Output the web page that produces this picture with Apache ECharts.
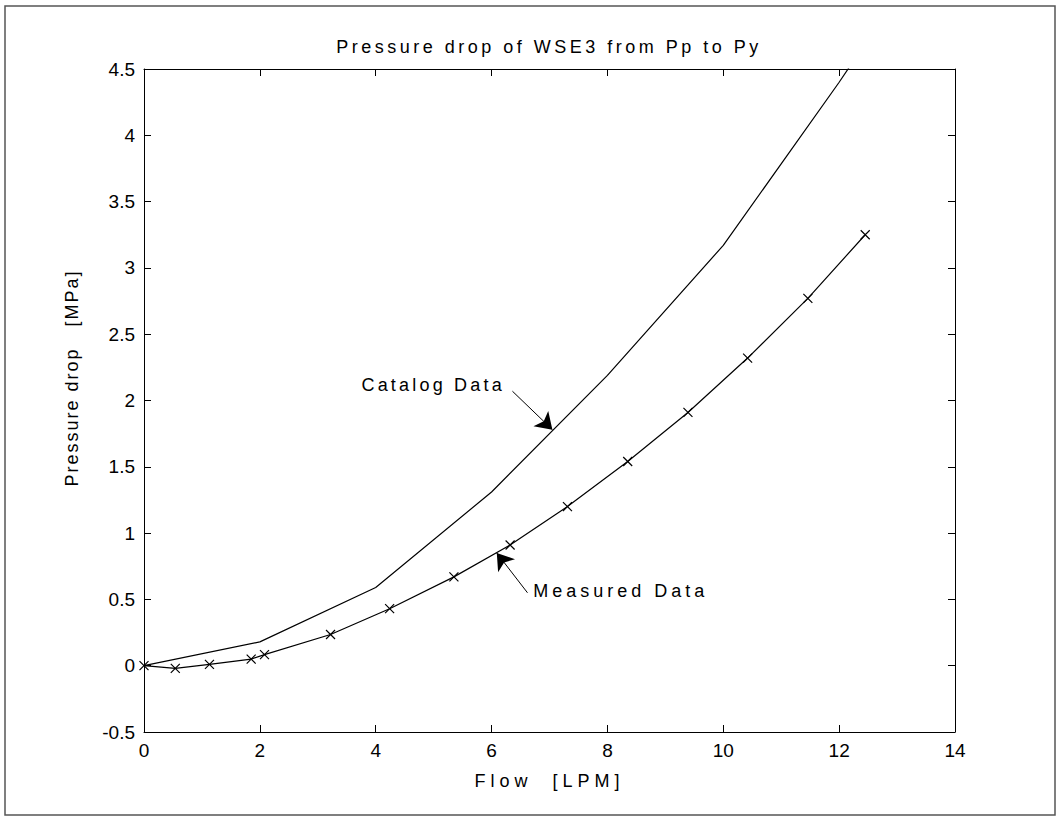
<!DOCTYPE html>
<html><head><meta charset="utf-8">
<script src="https://cdn.jsdelivr.net/npm/echarts@6/dist/echarts.min.js"></script>
<style>html,body{margin:0;padding:0;background:#fff}#c{width:1060px;height:834px}</style>
</head><body><div id="c"></div>
<script>
const chartTitle = 'Pressure drop of WSE3 from Pp to Py';
const xName = 'Flow  [LPM]';
const yName = 'Pressure drop   [MPa]';
const catalogName = 'Catalog Data';
const measuredName = 'Measured Data';
const catalogFlow = [0, 2, 4, 6, 8, 10, 12, 14];
const catalogDrop = [0, 0.18, 0.59, 1.31, 2.19, 3.17, 4.40, 5.70];
const measuredFlow = [0, 0.54, 1.13, 1.85, 2.08, 3.22, 4.24, 5.35, 6.32, 7.31, 8.35, 9.39, 10.42, 11.46, 12.45];
const measuredDrop = [0, -0.02, 0.01, 0.05, 0.083, 0.235, 0.43, 0.67, 0.91, 1.20, 1.54, 1.91, 2.32, 2.77, 3.25];
const xTicks = [0, 2, 4, 6, 8, 10, 12, 14];
const yTicks = [-0.5, 0, 0.5, 1, 1.5, 2, 2.5, 3, 3.5, 4, 4.5];

const FONT = '"Liberation Sans", Arial, sans-serif';
const zip = (a, b) => a.map((v, i) => [v, b[i]]);
const xMin = xTicks[0], xMax = xTicks[xTicks.length - 1], xInt = xTicks[1] - xTicks[0];
const yMin = yTicks[0], yMax = yTicks[yTicks.length - 1], yInt = yTicks[1] - yTicks[0];

const axisCommon = {
  type: 'value',
  axisLine: { show: true, onZero: false, lineStyle: { color: '#000', width: 1 } },
  axisTick: { show: true, inside: true, length: 7, lineStyle: { color: '#000', width: 1 } },
  splitLine: { show: false },
  axisLabel: { color: '#000', fontSize: 19, fontFamily: FONT }
};

const chart = echarts.init(document.getElementById('c'), null, { renderer: 'svg' });
chart.setOption({
  animation: false,
  backgroundColor: '#fff',
  grid: { left: 144, right: 105, top: 69, bottom: 102 },
  xAxis: [
    Object.assign({}, axisCommon, {
      min: xMin, max: xMax, interval: xInt, position: 'bottom',
      axisLabel: Object.assign({}, axisCommon.axisLabel, { margin: 9 }),
      name: xName, nameLocation: 'middle', nameGap: 40,
      nameTextStyle: { color: '#000', fontSize: 18, fontFamily: FONT }
    }),
    Object.assign({}, axisCommon, {
      min: xMin, max: xMax, interval: xInt, position: 'top',
      axisLabel: { show: false }
    })
  ],
  yAxis: [
    Object.assign({}, axisCommon, {
      min: yMin, max: yMax, interval: yInt, position: 'left',
      axisLabel: Object.assign({}, axisCommon.axisLabel, { margin: 9 })
    }),
    Object.assign({}, axisCommon, {
      min: yMin, max: yMax, interval: yInt, position: 'right',
      axisLabel: { show: false }
    })
  ],
  graphic: [
    { type: 'rect', shape: { x: 5, y: 6, width: 1050, height: 809 },
      style: { fill: 'none', stroke: '#555', lineWidth: 1.5 }, silent: true },
    { type: 'text', x: 549, y: 47,
      style: { text: chartTitle, textAlign: 'center', textVerticalAlign: 'middle',
               fill: '#000', font: '18px ' + FONT } },
    { type: 'text', x: 72, y: 378, rotation: Math.PI / 2,
      style: { text: yName, textAlign: 'center', textVerticalAlign: 'middle',
               fill: '#000', font: '18px ' + FONT } }
  ],
  series: [
    {
      name: catalogName, type: 'line', data: zip(catalogFlow, catalogDrop),
      showSymbol: false, symbol: 'none', clip: true,
      lineStyle: { color: '#000', width: 1.2 },
      markLine: {
        silent: true, symbol: ['none', 'arrow'], symbolSize: 16,
        label: { show: false },
        lineStyle: { color: '#000', width: 1, type: 'solid' },
        data: [[{ coord: [6.36, 2.07] }, { coord: [7.05, 1.78] }]]
      },
      markPoint: {
        silent: true, symbol: 'circle', symbolSize: 0,
        label: { show: true, position: 'left', distance: 0, formatter: catalogName,
                 color: '#000', fontSize: 18, fontFamily: FONT },
        data: [{ coord: [6.23, 2.12] }]
      }
    },
    {
      name: measuredName, type: 'line', data: zip(measuredFlow, measuredDrop),
      symbol: 'path://M0,0L10,10M10,0L0,10', symbolSize: 9, showAllSymbol: true,
      itemStyle: { color: 'rgba(0,0,0,0)', borderColor: '#000', borderWidth: 1.2 },
      lineStyle: { color: '#000', width: 1.2 },
      markLine: {
        silent: true, symbol: ['none', 'arrow'], symbolSize: 16,
        label: { show: false },
        lineStyle: { color: '#000', width: 1, type: 'solid' },
        data: [[{ coord: [6.62, 0.55] }, { coord: [6.09, 0.85] }]]
      },
      markPoint: {
        silent: true, symbol: 'circle', symbolSize: 0,
        label: { show: true, position: 'right', distance: 0, formatter: measuredName,
                 color: '#000', fontSize: 18, fontFamily: FONT },
        data: [{ coord: [6.72, 0.566] }]
      }
    }
  ]
});

const spacing = {};
spacing[chartTitle] = '3.5px';
spacing[catalogName] = '3.2px';
spacing[measuredName] = '4px';
spacing[xName.replace(/\s+/g, ' ')] = '5px';
spacing[yName.replace(/\s+/g, ' ')] = '2px';
function applySpacing() {
  document.querySelectorAll('#c text').forEach(t => {
    const k = (t.textContent || '').replace(/\s+/g, ' ').trim();
    if (spacing[k]) t.style.letterSpacing = spacing[k];
  });
}
chart.on('finished', applySpacing);
chart.getZr().refreshImmediately();
applySpacing();
setTimeout(applySpacing, 50);
</script>
</body></html>
